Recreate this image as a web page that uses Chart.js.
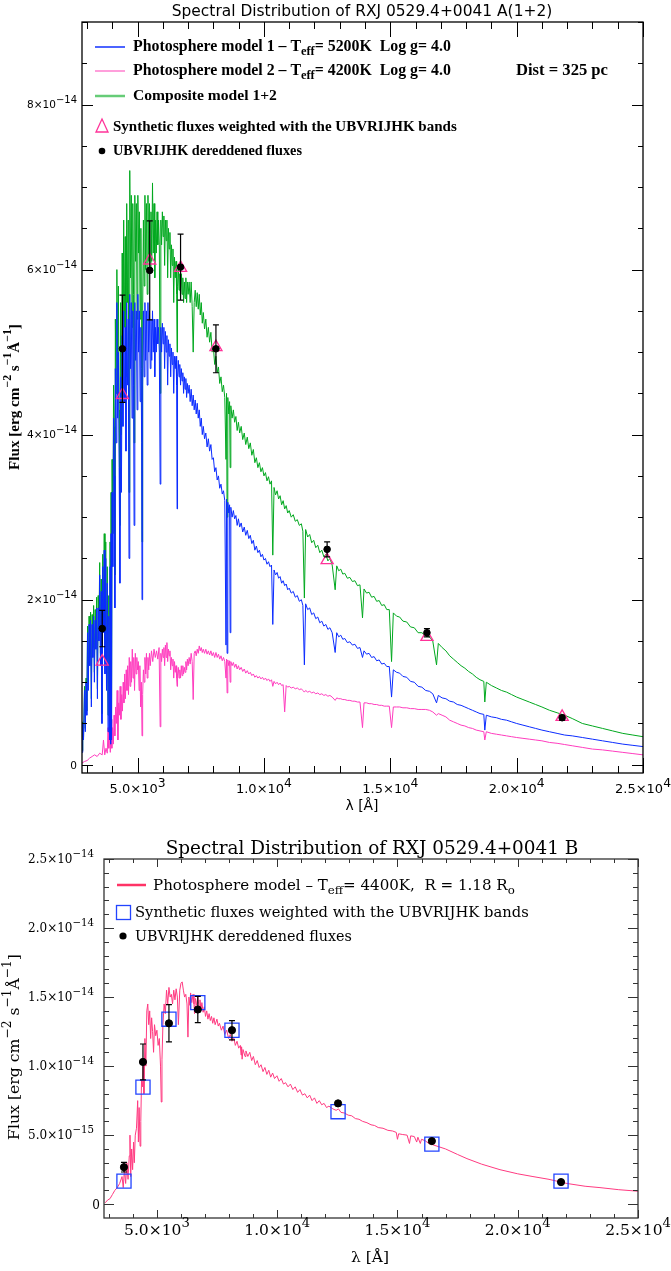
<!DOCTYPE html>
<html>
<head>
<meta charset="utf-8">
<script src="https://cdn.jsdelivr.net/npm/chart.js@4.4.0/dist/chart.umd.min.js"></script>
<style>
  body { margin: 0; background: #fff; }
  #wrapA { position: absolute; left: 0; top: 0; width: 671px; height: 830px; }
  #wrapB { position: absolute; left: 0; top: 830px; width: 671px; height: 441px; }
</style>
</head>
<body>
<div id="wrapA"><canvas id="chartA" width="671" height="830"></canvas></div>
<div id="wrapB"><canvas id="chartB" width="671" height="441"></canvas></div>
<script>
// wavelengths in Angstrom, fluxes in units of 1e-14 erg cm-2 s-1 A-1

// --- panel A : RXJ 0529.4+0041 A(1+2) ---
const model1 = [[2800,0.15],[2830,0.5],[2860,0.3],[2900,0.9],[2930,0.4],[2960,1.0],[2990,0.6],[3020,1.6],[3050,0.9],[3080,1.7],[3110,1.2],[3140,1.75],[3170,0.7],[3200,1.7],[3230,1.3],[3260,1.8],[3290,1.0],[3320,1.75],[3350,1.4],[3380,1.9],[3410,0.8],[3440,1.9],[3470,1.5],[3500,2.3],[3530,1.2],[3560,2.1],[3590,0.5],[3620,2.4],[3650,1.6],[3680,2.6],[3710,1.1],[3740,2.5],[3770,0.9],[3800,2.2],[3830,0.4],[3860,1.8],[3890,0.3],[3910,2.4],[3933,0.25],[3950,2.8],[3968,0.3],[3990,3.3],[4020,2.4],[4050,4.2],[4080,3.5],[4101,1.9],[4120,4.8],[4150,3.9],[4180,5.6],[4210,4.2],[4240,5.0],[4270,3.6],[4300,2.2],[4330,4.7],[4360,3.3],[4390,5.2],[4420,4.1],[4450,5.5],[4480,4.4],[4510,5.3],[4540,3.8],[4570,5.6],[4600,4.6],[4630,5.4],[4660,2.5],[4690,5.7],[4720,4.8],[4750,5.6],[4780,4.2],[4810,5.5],[4840,4.6],[4861,2.9],[4890,5.6],[4920,4.9],[4950,5.5],[4980,4.3],[5010,5.7],[5040,5.0],[5070,5.5],[5100,4.4],[5130,5.3],[5160,3.9],[5175,2.0],[5200,4.6],[5230,5.5],[5260,4.7],[5290,5.6],[5320,4.9],[5350,5.5],[5380,4.6],[5410,5.6],[5440,5.0],[5470,5.5],[5500,4.8],[5530,5.4],[5560,4.9],[5590,5.5],[5620,5.0],[5650,5.4],[5680,4.7],[5710,5.3],[5740,5.0],[5770,5.4],[5800,5.1],[5830,5.3],[5860,5.0],[5893,3.4],
  [5920,5.3],[5950,5.0],[5980,5.35],[6010,5.1],[6040,5.3],[6070,4.8],[6100,5.25],[6130,5.0],[6160,5.2],[6190,4.6],[6220,5.15],[6250,4.95],[6280,5.1],[6310,4.7],[6340,5.05],[6370,4.85],[6400,5.0],[6430,4.5],[6460,4.95],[6490,4.8],[6520,4.95],[6545,4.6],[6563,3.1],[6580,4.7],[6610,4.9],[6640,4.7],[6670,4.85],[6700,4.6],[6730,4.8],[6760,4.65],[6790,4.75],[6820,4.5],[6850,4.7],[6880,4.55],[6910,4.68],[6940,4.45],[6970,4.62],[7000,4.5],[7040,4.6],[7080,4.4],[7120,4.55],[7160,4.35],[7200,4.48],[7240,4.3],[7280,4.42],[7320,4.25],[7360,4.38],[7400,4.2],[7440,4.3],[7480,4.1],[7520,4.2],[7560,4.0],[7600,4.1],[7650,3.95],[7700,4.02],[7750,3.85],[7800,3.95],[7850,3.8],[7900,3.88],[7950,3.7],[8000,3.72],[8050,3.55],[8100,3.6],[8150,3.45],[8200,3.5],[8250,3.35],[8300,3.4],[8350,3.28],[8400,3.32],[8450,3.2],[8498,1.45],[8520,3.22],[8542,1.35],[8570,3.18],[8610,3.05],[8640,3.15],[8662,1.6],[8690,3.12],[8740,3.0],[8790,3.08],[8840,2.98],[8890,3.02],[8940,2.9],[8990,2.98],[9040,2.88],[9100,2.93],[9160,2.82],[9220,2.88],[9280,2.78],[9340,2.84],[9400,2.74],[9460,2.78],[9520,2.68],[9580,2.72],[9640,2.6],[9700,2.65],[9760,2.57],[9820,2.6],[9880,2.52],[9940,2.55],[10000,2.48],[10060,2.5],[10120,2.43],[10180,2.46],[10240,2.4],[10300,2.42],[10350,1.7],[10400,2.36],[10460,2.3],[10520,2.33],[10580,2.26],[10640,2.28],[10700,2.2],[10760,2.23],[10820,2.17],[10880,2.19],[10940,2.12],[11000,2.14],[11080,2.08],[11160,2.1],[11240,2.03],[11320,2.05],[11400,1.98],[11480,2.0],[11540,1.93],[11600,1.21],[11650,1.95],[11730,1.88],[11810,1.9],[11890,1.82],[11970,1.84],[12050,1.77],[12130,1.79],[12210,1.72],[12290,1.74],[12370,1.68],[12450,1.7],[12530,1.64],[12610,1.66],[12700,1.6],[12818,1.36],[12880,1.6],[12960,1.55],[13040,1.57],[13120,1.52],[13200,1.53],[13300,1.48],[13400,1.49],[13500,1.45],[13600,1.46],[13700,1.41],[13800,1.42],[13900,1.3],[13960,1.38],[14060,1.34],[14160,1.35],[14260,1.3],[14360,1.31],[14460,1.26],[14560,1.27],[14660,1.22],[14760,1.23],[14860,1.19],[14960,1.19],[15050,0.82],[15120,1.15],[15250,1.12],[15370,1.11],[15500,1.07],[15650,1.06],[15800,1.01],[15950,1.0],[16100,0.95],[16250,0.94],[16400,0.9],[16550,0.89],[16680,0.86],[16830,0.75],[16900,0.84],[17050,0.81],[17200,0.8],[17350,0.77],[17500,0.76],[17650,0.73],[17800,0.72],[17950,0.7],[18100,0.68],[18250,0.66],[18400,0.64],[18550,0.62],[18700,0.61],[18740,0.42],[18800,0.6],[19000,0.58],[19200,0.57],[19400,0.55],[19600,0.54],[19800,0.52],[20000,0.5],[20250,0.48],[20500,0.46],[20750,0.44],[21000,0.42],[21300,0.4],[21600,0.38],[21900,0.36],[22200,0.35],[22600,0.33],[23000,0.31],[23400,0.29],[23800,0.27],[24200,0.25],[24600,0.235],[25000,0.22]];

const model2 = [[2800,0.02],[2900,0.04],[3000,0.05],[3100,0.08],[3200,0.1],[3300,0.12],[3400,0.1],[3500,0.14],[3600,0.12],[3650,0.3],[3700,0.12],[3750,0.2],[3800,0.14],[3830,0.45],[3860,0.2],[3890,0.5],[3920,0.15],[3950,0.55],[3980,0.2],[4010,0.45],[4040,0.25],[4070,0.6],[4100,0.35],[4130,0.7],[4160,0.5],[4190,0.9],[4220,0.3],[4250,0.75],[4280,0.6],[4310,0.95],[4340,0.55],[4370,0.85],[4400,0.65],[4430,1.0],[4460,0.75],[4490,1.1],[4520,0.8],[4550,1.15],[4580,0.9],[4610,1.2],[4640,0.85],[4670,1.3],[4700,0.95],[4730,1.25],[4760,1.0],[4790,1.4],[4820,1.05],[4850,1.3],[4880,0.9],[4910,1.35],[4940,1.1],[4970,1.3],[5000,1.15],[5030,1.25],[5060,0.9],[5090,1.2],[5120,0.7],[5150,1.0],[5175,0.35],[5200,0.85],[5230,1.15],[5260,1.0],[5290,1.3],[5320,1.1],[5350,1.35],[5380,1.05],[5410,1.3],[5440,1.15],[5470,1.35],[5500,1.2],[5550,1.38],[5600,1.25],[5650,1.4],[5700,1.3],[5750,1.38],[5800,1.28],[5850,1.42],[5893,0.46],
  [5920,1.35],[5950,1.25],[5980,1.4],[6010,1.3],[6040,1.42],[6070,1.2],[6100,1.45],[6130,1.3],[6160,1.48],[6190,1.25],[6220,1.4],[6250,1.32],[6280,1.38],[6310,1.15],[6340,1.3],[6370,1.2],[6400,1.28],[6430,1.05],[6460,1.25],[6490,1.12],[6520,1.2],[6545,1.05],[6563,0.95],[6580,1.1],[6610,1.18],[6640,1.05],[6670,1.15],[6700,1.05],[6730,1.2],[6760,1.08],[6790,1.2],[6820,1.1],[6850,1.18],[6880,1.12],[6910,1.25],[6940,1.15],[6970,1.28],[7000,1.2],[7040,1.3],[7080,1.22],[7120,1.35],[7160,1.25],[7200,0.79],[7240,1.35],[7280,1.38],[7320,1.32],[7360,1.4],[7400,1.35],[7440,1.44],[7480,1.38],[7520,1.42],[7560,1.36],[7600,1.4],[7650,1.35],[7700,1.4],[7750,1.34],[7800,1.38],[7850,1.33],[7900,1.38],[7950,1.32],[8000,1.36],[8050,1.3],[8100,1.36],[8150,1.3],[8200,1.34],[8250,1.28],[8300,1.32],[8350,1.26],[8400,1.3],[8450,1.25],[8498,1.05],[8520,1.28],[8542,0.87],[8570,1.27],[8610,1.2],[8640,1.26],[8662,1.0],[8690,1.25],[8740,1.2],[8790,1.24],[8840,1.18],[8890,1.22],[8940,1.16],[8990,1.2],[9040,1.15],[9100,1.18],[9160,1.13],[9220,1.16],[9280,1.11],[9340,1.14],[9400,1.1],[9460,1.12],[9520,1.08],[9580,1.1],[9640,1.06],[9700,1.08],[9760,1.05],[9820,1.07],[9880,1.04],[9940,1.06],[10000,1.03],[10060,1.05],[10120,1.02],[10180,1.04],[10240,1.01],[10300,1.03],[10350,0.95],[10400,1.01],[10460,0.98],[10520,1.0],[10580,0.97],[10640,0.99],[10700,0.96],[10760,0.97],[10820,0.64],[10880,0.96],[10940,0.94],[11000,0.95],[11080,0.93],[11160,0.94],[11240,0.92],[11320,0.93],[11400,0.91],[11480,0.92],[11540,0.9],[11600,0.88],[11650,0.9],[11730,0.88],[11810,0.89],[11890,0.87],[11970,0.88],[12050,0.86],[12130,0.87],[12210,0.85],[12290,0.86],[12370,0.84],[12450,0.85],[12530,0.83],[12610,0.84],[12700,0.82],[12818,0.78],[12880,0.81],[12960,0.8],[13040,0.8],[13120,0.79],[13200,0.79],[13300,0.78],[13400,0.78],[13500,0.77],[13600,0.77],[13700,0.76],[13800,0.76],[13900,0.45],[13960,0.75],[14060,0.75],[14160,0.74],[14260,0.74],[14360,0.73],[14460,0.73],[14560,0.72],[14660,0.72],[14760,0.71],[14860,0.71],[14960,0.71],[15050,0.45],[15120,0.7],[15250,0.7],[15370,0.7],[15500,0.69],[15650,0.69],[15800,0.68],[15950,0.68],[16100,0.67],[16250,0.67],[16400,0.67],[16550,0.66],[16680,0.64],[16830,0.6],[16900,0.62],[17050,0.6],[17200,0.58],[17350,0.54],[17500,0.52],[17650,0.5],[17800,0.48],[17950,0.47],[18100,0.45],[18250,0.44],[18400,0.42],[18550,0.41],[18700,0.4],[18740,0.3],[18800,0.4],[19000,0.38],[19200,0.37],[19400,0.36],[19600,0.35],[19800,0.34],[20000,0.33],[20250,0.32],[20500,0.31],[20750,0.3],[21000,0.29],[21300,0.27],[21600,0.26],[21900,0.245],[22200,0.23],[22600,0.21],[23000,0.19],[23400,0.18],[23800,0.165],[24200,0.15],[24600,0.135],[25000,0.12]];

const composite = [[2800,0.17],[2830,0.52],[2860,0.33],[2900,0.95],[2930,0.44],[2960,1.05],[2990,0.65],[3020,1.68],[3050,0.98],[3080,1.8],[3110,1.3],[3140,1.85],[3170,0.8],[3200,1.82],[3230,1.42],[3260,1.93],[3290,1.12],[3320,1.88],[3350,1.52],[3380,2.03],[3410,0.92],[3440,2.05],[3470,1.65],[3500,2.45],[3530,1.35],[3560,2.25],[3590,0.62],[3620,2.55],[3650,1.75],[3680,2.8],[3710,1.25],[3740,2.7],[3770,1.05],[3800,2.4],[3830,0.6],[3860,2.05],[3890,0.55],[3910,2.7],[3933,0.45],[3950,3.3],[3968,0.5],[3990,3.7],[4020,2.8],[4050,4.6],[4080,4.1],[4101,2.3],[4120,5.4],[4150,4.5],[4180,6.0],[4210,4.6],[4240,5.8],[4270,4.3],[4300,2.9],[4330,5.6],[4360,4.0],[4390,6.2],[4420,5.0],[4450,6.6],[4480,5.3],[4510,6.4],[4540,4.7],[4570,6.8],[4600,5.6],[4630,6.6],[4660,3.3],[4690,7.2],[4720,5.9],[4750,6.9],[4780,5.3],[4810,6.8],[4840,5.7],[4861,3.9],[4890,6.9],[4920,6.1],[4950,6.8],[4980,5.4],[5010,6.9],[5040,6.2],[5070,6.7],[5100,5.4],[5130,6.5],[5160,4.8],[5175,2.7],[5200,5.5],[5230,6.6],[5260,5.8],[5290,6.9],[5320,6.0],[5350,6.8],[5380,5.7],[5410,6.9],[5440,6.1],[5470,6.8],[5500,6.0],[5530,6.7],[5560,6.1],[5590,7.05],[5620,6.2],[5650,6.8],[5680,5.9],[5710,6.6],[5740,6.2],[5770,6.7],[5800,6.3],[5830,6.6],[5860,6.3],[5893,4.5],
  [5920,6.6],[5950,6.3],[5980,6.7],[6010,6.4],[6040,6.65],[6070,6.05],[6100,6.6],[6130,6.35],[6160,6.6],[6190,5.9],[6220,6.5],[6250,6.25],[6280,6.45],[6310,5.9],[6340,6.3],[6370,6.05],[6400,6.25],[6430,5.6],[6460,6.15],[6490,5.9],[6520,6.1],[6545,5.7],[6563,5.0],[6580,5.8],[6610,6.05],[6640,5.75],[6670,5.95],[6700,5.65],[6730,5.95],[6760,5.7],[6790,5.9],[6820,5.6],[6850,5.85],[6880,5.65],[6910,5.9],[6940,5.6],[6970,5.85],[7000,5.7],[7040,5.85],[7080,5.6],[7120,5.85],[7160,5.55],[7200,5.0],[7240,5.6],[7280,5.75],[7320,5.55],[7360,5.72],[7400,5.52],[7440,5.7],[7480,5.45],[7520,5.6],[7560,5.35],[7600,5.48],[7650,5.28],[7700,5.4],[7750,5.18],[7800,5.3],[7850,5.12],[7900,5.24],[7950,5.0],[8000,5.06],[8050,4.85],[8100,4.95],[8150,4.75],[8200,4.82],[8250,4.62],[8300,4.7],[8350,4.52],[8400,4.6],[8450,4.45],[8498,3.7],[8520,4.5],[8542,3.0],[8570,4.45],[8610,4.25],[8640,4.4],[8662,3.6],[8690,4.35],[8740,4.2],[8790,4.3],[8840,4.15],[8890,4.22],[8940,4.05],[8990,4.15],[9040,4.02],[9100,4.1],[9160,3.94],[9220,4.02],[9280,3.88],[9340,3.97],[9400,3.83],[9460,3.9],[9520,3.75],[9580,3.82],[9640,3.66],[9700,3.72],[9760,3.6],[9820,3.66],[9880,3.55],[9940,3.6],[10000,3.5],[10060,3.54],[10120,3.44],[10180,3.49],[10240,3.4],[10300,3.44],[10350,2.54],[10400,3.36],[10460,3.27],[10520,3.32],[10580,3.22],[10640,3.26],[10700,3.15],[10760,3.2],[10820,3.1],[10880,3.14],[10940,3.05],[11000,3.08],[11080,3.0],[11160,3.03],[11240,2.95],[11320,2.97],[11400,2.9],[11480,2.92],[11540,2.83],[11600,2.02],[11650,2.85],[11730,2.76],[11810,2.79],[11890,2.69],[11970,2.72],[12050,2.63],[12130,2.66],[12210,2.57],[12290,2.6],[12370,2.52],[12450,2.55],[12530,2.47],[12610,2.5],[12700,2.42],[12818,2.12],[12880,2.41],[12960,2.35],[13040,2.37],[13120,2.31],[13200,2.32],[13300,2.26],[13400,2.27],[13500,2.22],[13600,2.23],[13700,2.17],[13800,2.18],[13900,1.78],[13960,2.13],[14060,2.08],[14160,2.09],[14260,2.03],[14360,2.04],[14460,1.98],[14560,1.99],[14660,1.93],[14760,1.94],[14860,1.88],[14960,1.88],[15050,1.25],[15120,1.84],[15250,1.8],[15370,1.79],[15500,1.74],[15650,1.73],[15800,1.67],[15950,1.66],[16100,1.6],[16250,1.6],[16400,1.56],[16550,1.55],[16680,1.5],[16830,1.21],[16900,1.47],[17050,1.42],[17200,1.38],[17350,1.32],[17500,1.28],[17650,1.24],[17800,1.2],[17950,1.17],[18100,1.13],[18250,1.1],[18400,1.06],[18550,1.03],[18700,1.01],[18740,0.76],[18800,1.0],[19000,0.96],[19200,0.93],[19400,0.9],[19600,0.88],[19800,0.85],[20000,0.82],[20250,0.79],[20500,0.76],[20750,0.73],[21000,0.7],[21300,0.66],[21600,0.63],[21900,0.6],[22200,0.56],[22600,0.5],[23000,0.47],[23400,0.44],[23800,0.41],[24200,0.38],[24600,0.36],[25000,0.34]];

const bandWaveA = [3600, 4400, 5480, 6700, 8100, 12500, 16450, 21800];
const obsFluxA  = [1.65, 5.04, 5.99, 6.03, 5.04, 2.61, 1.60, 0.57];
const obsErrA   = [0.22, 0.65, 0.60, 0.40, 0.29, 0.09, 0.05, 0.03];
const synthA    = [1.25, 4.48, 6.11, 6.02, 5.06, 2.48, 1.55, 0.58];

// --- panel B : RXJ 0529.4+0041 B ---
const modelB = [[2850,0.01],[2950,0.03],[3050,0.04],[3150,0.07],[3250,0.1],[3350,0.12],[3450,0.15],[3550,0.2],[3600,0.12],[3650,0.25],[3700,0.15],[3750,0.3],[3800,0.18],[3850,0.35],[3880,0.5],[3910,0.2],[3950,0.4],[3990,0.25],[4030,0.45],[4060,0.3],[4100,0.5],[4150,0.55],[4200,0.75],[4230,0.45],[4260,0.7],[4300,0.42],[4330,0.6],[4360,0.9],[4400,0.85],[4430,1.0],[4460,0.8],[4500,1.2],[4540,1.0],[4580,1.4],[4620,1.45],[4660,1.3],[4700,1.4],[4740,1.2],[4780,1.35],[4820,1.25],[4861,1.1],[4900,1.3],[4950,1.22],[5000,1.26],[5050,1.15],[5100,1.2],[5150,1.0],[5180,0.74],[5210,1.05],[5250,1.3],[5300,1.45],[5350,1.38],[5400,1.55],[5450,1.45],[5500,1.57],[5550,1.5],[5600,1.52],[5650,1.45],[5700,1.55],[5750,1.48],[5800,1.56],[5850,1.5],[5893,1.3],[5950,1.55],[6000,1.6],[6050,1.61],[6100,1.55],[6150,1.5],[6200,1.52],[6250,1.45],[6290,1.21],
  [6330,1.5],[6370,1.44],[6400,1.53],[6450,1.46],[6500,1.52],[6540,1.45],[6563,1.38],[6600,1.49],[6650,1.44],[6700,1.5],[6750,1.43],[6790,1.48],[6830,1.41],[6870,1.46],[6920,1.39],[6970,1.43],[7020,1.36],[7070,1.4],[7120,1.34],[7170,1.38],[7220,1.33],[7270,1.36],[7320,1.31],[7370,1.35],[7420,1.3],[7495,1.34],[7550,1.29],[7600,1.31],[7680,1.26],[7750,1.29],[7820,1.23],[7900,1.26],[7980,1.2],[8050,1.23],[8120,1.18],[8190,1.21],[8260,1.15],[8330,1.18],[8400,1.13],[8470,1.15],[8498,1.08],[8520,1.14],[8542,1.05],[8580,1.12],[8662,1.07],[8700,1.11],[8780,1.07],[8860,1.1],[8940,1.04],[9010,1.07],[9090,1.01],[9170,1.04],[9250,0.99],[9330,1.01],[9410,0.96],[9490,0.99],[9570,0.94],[9650,0.97],[9730,0.92],[9810,0.95],[9890,0.91],[9990,0.93],[10080,0.89],[10170,0.91],[10260,0.87],[10350,0.88],[10450,0.85],[10550,0.87],[10650,0.83],[10750,0.85],[10850,0.81],[10946,0.83],[11050,0.79],[11150,0.8],[11250,0.77],[11350,0.79],[11450,0.75],[11550,0.77],[11650,0.73],[11750,0.75],[11850,0.72],[11950,0.73],[12050,0.7],[12150,0.71],[12318,0.69],[12450,0.68],[12550,0.69],[12650,0.665],[12800,0.66],[12950,0.645],[13100,0.64],[13250,0.62],[13400,0.615],[13550,0.6],[13732,0.59],[13900,0.575],[14050,0.57],[14200,0.555],[14400,0.55],[14600,0.535],[14800,0.53],[14950,0.52],[15000,0.47],[15050,0.51],[15200,0.505],[15400,0.5],[15500,0.44],[15550,0.495],[15700,0.49],[15800,0.45],[15850,0.485],[15950,0.44],[16000,0.47],[16150,0.46],[16300,0.44],[16476,0.43],[17000,0.4],[17500,0.36],[17890,0.33],[18500,0.29],[19262,0.25],[20000,0.22],[20634,0.2],[21300,0.18],[22048,0.15],[22800,0.13],[23420,0.12],[24200,0.105],[25000,0.094]];

const bandWaveB = [3630, 4420, 5500, 6700, 8120, 12530, 16430, 21800];
const obsFluxB  = [0.268, 1.03, 1.31, 1.41, 1.26, 0.73, 0.457, 0.16];
const obsErrB   = [0.035, 0.13, 0.135, 0.095, 0.07, 0.01, 0.01, 0.01];
const synthB    = [0.167, 0.848, 1.34, 1.46, 1.26, 0.67, 0.435, 0.167];

// axes
const xMajor = [5000, 10000, 15000, 20000, 25000];
const xMant  = ['5.0', '1.0', '1.5', '2.0', '2.5'];
const xExp   = ['3', '4', '4', '4', '4'];
const yMajorA = [0, 2, 4, 6, 8];
const yMantA  = ['0', '2', '4', '6', '8'];
const yExpA   = ['', '\u221214', '\u221214', '\u221214', '\u221214'];
const yMajorB = [0, 0.5, 1, 1.5, 2, 2.5];
const yMantB  = ['0', '5.0', '1.0', '1.5', '2.0', '2.5'];
const yExpB   = ['', '\u221215', '\u221214', '\u221214', '\u221214', '\u221214'];

const SANS = '"DejaVu Sans"';
const SERIF = '"DejaVu Serif"';
const LSERIF = '"Liberation Serif"';

function xy(arr) { return arr.map(p => ({ x: p[0], y: p[1] })); }
function pts(w, f) { return w.map((v, i) => ({ x: v, y: f[i] })); }
function sci(m, e) { return e ? [{ t: m + '\u00d710' }, { t: e, s: 'sup' }] : [{ t: m }]; }

function richWidth(ctx, segs, size, fam, weight, sr) {
  let w = 0;
  segs.forEach(s => {
    ctx.font = `${weight} ${s.s ? size * sr : size}px ${fam}`;
    w += ctx.measureText(s.t).width;
  });
  return w;
}
function drawRich(ctx, segs, x, y, size, fam, weight, align, sr = 0.78) {
  const w = richWidth(ctx, segs, size, fam, weight, sr);
  let cx = align === 'center' ? x - w / 2 : align === 'right' ? x - w : x;
  ctx.textAlign = 'left';
  ctx.textBaseline = 'alphabetic';
  segs.forEach(s => {
    const sz = s.s ? size * sr : size;
    ctx.font = `${weight} ${sz}px ${fam}`;
    const dy = s.s === 'sup' ? -size * 0.5 : s.s === 'sub' ? size * 0.28 : 0;
    ctx.fillText(s.t, cx, y + dy);
    cx += ctx.measureText(s.t).width;
  });
}
// scale font so the text fills a given width
function drawFit(ctx, segs, x, y, width, fam, weight, align) {
  const size = 20 * width / richWidth(ctx, segs, 20, fam, weight, 0.78);
  drawRich(ctx, segs, x, y, size, fam, weight, align);
}

function drawFrame(chart, o) {
  const ctx = chart.ctx, a = chart.chartArea;
  const xs = chart.scales.x, ys = chart.scales.y;
  ctx.save();
  ctx.strokeStyle = o.frameColor;
  ctx.lineWidth = 1.3;
  ctx.strokeRect(a.left, a.top, a.right - a.left, a.bottom - a.top);
  ctx.lineWidth = 1;
  ctx.beginPath();
  for (let v = 3000; v <= 25000; v += 1000) {
    const px = Math.round(xs.getPixelForValue(v)) + 0.5;
    const len = xMajor.includes(v) ? o.xMaj : o.xMin;
    ctx.moveTo(px, a.bottom); ctx.lineTo(px, a.bottom - len);
    ctx.moveTo(px, a.top); ctx.lineTo(px, a.top + len);
  }
  for (let k = 0; k * o.yStep <= o.yMax + 1e-9; k++) {
    const v = k * o.yStep;
    const py = Math.round(ys.getPixelForValue(v)) + 0.5;
    const len = o.yMajor.some(m => Math.abs(m - v) < 1e-6) ? o.yMaj : o.yMin;
    ctx.moveTo(a.left, py); ctx.lineTo(a.left + len, py);
    ctx.moveTo(a.right, py); ctx.lineTo(a.right - len, py);
  }
  ctx.stroke();
  ctx.fillStyle = '#000';
  xMajor.forEach((v, i) => {
    drawRich(ctx, sci(xMant[i], xExp[i]), xs.getPixelForValue(v), a.bottom + o.xLabDy, o.xLabSize, o.font, 'normal', 'center', o.supRatio);
  });
  o.yMajor.forEach((v, i) => {
    const lx = o.yExp[i] ? o.yLabX : o.zeroX;
    drawRich(ctx, sci(o.yMant[i], o.yExp[i]), lx, ys.getPixelForValue(v) + o.yLabSize * 0.36, o.yLabSize, o.font, 'normal', 'right', o.supRatio);
  });
  ctx.restore();
}

function errorBars(chart, w, f, e) {
  const ctx = chart.ctx, xs = chart.scales.x, ys = chart.scales.y;
  ctx.save();
  ctx.strokeStyle = '#000';
  ctx.lineWidth = 1.2;
  ctx.beginPath();
  w.forEach((v, i) => {
    const x = xs.getPixelForValue(v);
    const y1 = ys.getPixelForValue(f[i] + e[i]), y2 = ys.getPixelForValue(f[i] - e[i]);
    ctx.moveTo(x, y1); ctx.lineTo(x, y2);
    ctx.moveTo(x - 3, y1); ctx.lineTo(x + 3, y1);
    ctx.moveTo(x - 3, y2); ctx.lineTo(x + 3, y2);
  });
  ctx.stroke();
  ctx.restore();
}

function legendLine(ctx, x1, x2, y, color, width) {
  ctx.strokeStyle = color; ctx.lineWidth = width;
  ctx.beginPath(); ctx.moveTo(x1, y); ctx.lineTo(x2, y); ctx.stroke();
}

const fluxTitle = [{ t: 'Flux [erg cm' }, { t: '\u22122', s: 'sup' }, { t: ' s' }, { t: '\u22121', s: 'sup' }, { t: '\u00c5' }, { t: '\u22121', s: 'sup' }, { t: ']' }];

const decoA = {
  id: 'decoA',
  afterDatasetsDraw(chart) { errorBars(chart, bandWaveA, obsFluxA, obsErrA); },
  afterDraw(chart) {
    const ctx = chart.ctx;
    drawFrame(chart, { frameColor: '#000', xMaj: 15, xMin: 7, yMaj: 11, yMin: 5, yStep: 0.5, yMax: 9,
      yMajor: yMajorA, yMant: yMantA, yExp: yExpA, font: SANS, xLabSize: 13, xLabDy: 20, yLabSize: 10.5,
      yLabX: 77, zeroX: 77, supRatio: 0.95 });
    ctx.save();
    ctx.fillStyle = '#000';
    drawFit(ctx, [{ t: 'Spectral Distribution of RXJ 0529.4+0041 A(1+2)' }], 362, 16, 381, SANS, 'normal', 'center');
    drawFit(ctx, [{ t: '\u03bb [\u00c5]' }], 362, 810, 33, SANS, 'normal', 'center');
    ctx.save();
    ctx.translate(19, 397);
    ctx.rotate(-Math.PI / 2);
    drawFit(ctx, fluxTitle, 0, 0, 146, LSERIF, 'bold', 'center');
    ctx.restore();
    // legend
    legendLine(ctx, 95, 125, 47, '#1030ff', 1.5);
    legendLine(ctx, 95, 125, 71, '#ff7fcf', 1.5);
    legendLine(ctx, 95, 125, 96, '#66cc77', 2.5);
    ctx.fillStyle = '#000';
    drawFit(ctx, [{ t: 'Photosphere model 1 \u2013 T' }, { t: 'eff', s: 'sub' }, { t: '= 5200K  Log g= 4.0' }], 133, 51, 318, LSERIF, 'bold', 'left');
    drawFit(ctx, [{ t: 'Photosphere model 2 \u2013 T' }, { t: 'eff', s: 'sub' }, { t: '= 4200K  Log g= 4.0' }], 133, 75, 318, LSERIF, 'bold', 'left');
    drawFit(ctx, [{ t: 'Dist = 325 pc' }], 516, 75, 92, LSERIF, 'bold', 'left');
    drawFit(ctx, [{ t: 'Composite model 1+2' }], 133, 100, 144, LSERIF, 'bold', 'left');
    drawFit(ctx, [{ t: 'Synthetic fluxes weighted with the UBVRIJHK bands' }], 113, 131, 344, LSERIF, 'bold', 'left');
    drawFit(ctx, [{ t: 'UBVRIJHK dereddened fluxes' }], 113, 155, 189, LSERIF, 'bold', 'left');
    ctx.strokeStyle = '#ff3399'; ctx.lineWidth = 1.3;
    ctx.beginPath(); ctx.moveTo(102, 119); ctx.lineTo(108, 132); ctx.lineTo(96, 132); ctx.closePath(); ctx.stroke();
    ctx.fillStyle = '#000';
    ctx.beginPath(); ctx.arc(102, 151, 3.3, 0, Math.PI * 2); ctx.fill();
    ctx.restore();
  }
};

const decoB = {
  id: 'decoB',
  afterDatasetsDraw(chart) { errorBars(chart, bandWaveB, obsFluxB, obsErrB); },
  afterDraw(chart) {
    const ctx = chart.ctx;
    drawFrame(chart, { frameColor: '#333', xMaj: 8, xMin: 4, yMaj: 10, yMin: 5, yStep: 0.1, yMax: 2.5,
      yMajor: yMajorB, yMant: yMantB, yExp: yExpB, font: SERIF, xLabSize: 15.5, xLabDy: 17, yLabSize: 12,
      yLabX: 94, zeroX: 100, supRatio: 0.85 });
    ctx.save();
    ctx.fillStyle = '#000';
    drawFit(ctx, [{ t: 'Spectral Distribution of RXJ 0529.4+0041 B' }], 372, 24, 413, SERIF, 'normal', 'center');
    drawFit(ctx, [{ t: '\u03bb [\u00c5]' }], 370, 432, 38, SERIF, 'normal', 'center');
    ctx.save();
    ctx.translate(19, 217);
    ctx.rotate(-Math.PI / 2);
    drawFit(ctx, fluxTitle, 0, 0, 186, SERIF, 'normal', 'center');
    ctx.restore();
    legendLine(ctx, 117, 146, 55, '#ff3366', 2.5);
    ctx.fillStyle = '#000';
    drawFit(ctx, [{ t: 'Photosphere model \u2013 T' }, { t: 'eff', s: 'sub' }, { t: '= 4400K,  R = 1.18 R' }, { t: 'o', s: 'sub' }], 153, 60, 362, SERIF, 'normal', 'left');
    drawFit(ctx, [{ t: 'Synthetic fluxes weighted with the UBVRIJHK bands' }], 135, 87, 394, SERIF, 'normal', 'left');
    drawFit(ctx, [{ t: 'UBVRIJHK dereddened fluxes' }], 135, 111, 217, SERIF, 'normal', 'left');
    ctx.strokeStyle = '#2244ff'; ctx.lineWidth = 1.3;
    ctx.strokeRect(116.5, 75.5, 14, 14);
    ctx.fillStyle = '#000';
    ctx.beginPath(); ctx.arc(123, 106, 3.6, 0, Math.PI * 2); ctx.fill();
    ctx.restore();
  }
};

const lineStyle = { showLine: true, pointRadius: 0, borderWidth: 1, fill: false };

new Chart(document.getElementById('chartA'), {
  type: 'scatter',
  data: {
    datasets: [
      { data: pts(bandWaveA, obsFluxA), pointStyle: 'circle', pointRadius: 3.3, backgroundColor: '#000', borderColor: '#000', order: 0 },
      { data: pts(bandWaveA, synthA), pointStyle: 'triangle', pointRadius: 7, borderWidth: 1.3, borderColor: '#ff3399', backgroundColor: 'rgba(0,0,0,0)', order: 1 },
      Object.assign({ data: xy(model1), borderColor: '#0a2bff', order: 2 }, lineStyle),
      Object.assign({ data: xy(composite), borderColor: '#00a81e', order: 3 }, lineStyle),
      Object.assign({ data: xy(model2), borderColor: '#ff3cbe', order: 4 }, lineStyle)
    ]
  },
  options: {
    responsive: false,
    animation: false,
    layout: { padding: { left: 82, right: 28, top: 22, bottom: 57 } },
    plugins: { legend: { display: false }, tooltip: { enabled: false } },
    scales: {
      x: { type: 'linear', min: 2800, max: 25000, display: false },
      y: { type: 'linear', min: -0.1, max: 9, display: false }
    }
  },
  plugins: [decoA]
});

new Chart(document.getElementById('chartB'), {
  type: 'scatter',
  data: {
    datasets: [
      { data: pts(bandWaveB, obsFluxB), pointStyle: 'circle', pointRadius: 3.6, backgroundColor: '#000', borderColor: '#000', order: 0 },
      { data: pts(bandWaveB, synthB), pointStyle: 'rect', pointRadius: 10, borderWidth: 1.3, borderColor: '#2244ff', backgroundColor: 'rgba(0,0,0,0)', order: 1 },
      Object.assign({ data: xy(modelB), borderColor: '#ff3a80', order: 2 }, lineStyle)
    ]
  },
  options: {
    responsive: false,
    animation: false,
    layout: { padding: { left: 104, right: 33, top: 29, bottom: 53 } },
    plugins: { legend: { display: false }, tooltip: { enabled: false } },
    scales: {
      x: { type: 'linear', min: 2800, max: 25000, display: false },
      y: { type: 'linear', min: -0.1, max: 2.5, display: false }
    }
  },
  plugins: [decoB]
});
</script>
</body>
</html>
